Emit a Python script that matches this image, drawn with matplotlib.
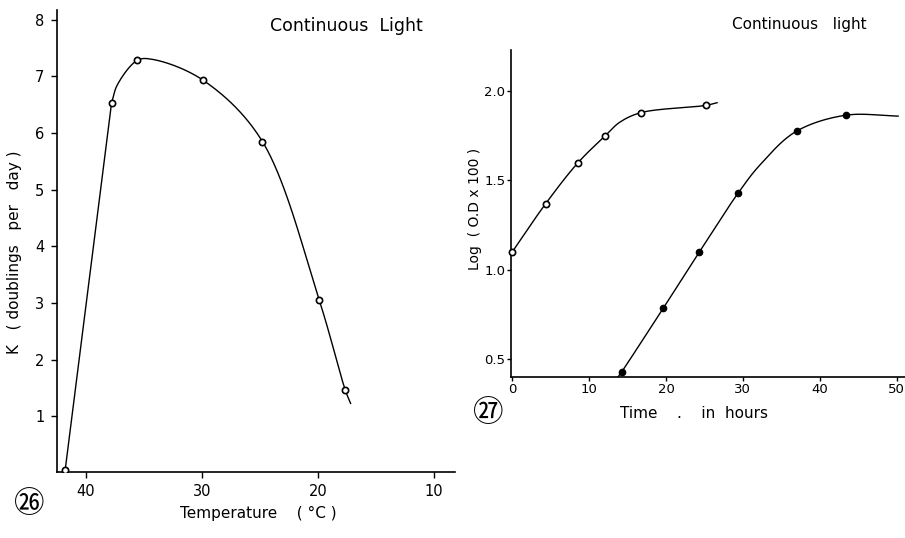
import numpy as np
import matplotlib
matplotlib.use("Agg")
import matplotlib.pyplot as plt

# Fig. 26: growth rate against temperature
temp_c = [41.8, 37.8, 35.6, 29.9, 24.8, 19.9, 17.65]
k_rate = [0.05, 6.53, 7.28, 6.93, 5.85, 3.05, 1.46]
# hand-drawn curve through the points (extra points)
curve26_t = [37.8, 37.3, 35.6, 34.3, 29.9, 24.8, 19.9, 17.65, 17.2]
curve26_k = [6.53, 6.85, 7.28, 7.30, 6.93, 5.85, 3.05, 1.46, 1.23]

# Fig. 27: growth curves, log(OD x 100) against time
open_t = [0, 4.35, 8.57, 12.1, 16.8, 25.2]
open_y = [1.10, 1.37, 1.60, 1.75, 1.88, 1.92]
open_curve_t = [0, 4.35, 8.57, 12.1, 14.0, 16.8, 25.2, 26.65]
open_curve_y = [1.10, 1.37, 1.60, 1.75, 1.826, 1.88, 1.92, 1.935]

filled_t = [14.26, 19.65, 24.35, 29.4, 37.0, 43.4]
filled_y = [0.43, 0.785, 1.10, 1.43, 1.776, 1.865]
filled_curve_t = [13.6, 14.26, 19.65, 24.35, 29.4, 32.3, 37.0, 43.4, 50.2]
filled_curve_y = [0.39, 0.43, 0.785, 1.10, 1.43, 1.59, 1.776, 1.865, 1.86]


def smooth(xs, ys, xr, yr, n=40):
    # centripetal Catmull-Rom through the points, in axis-scaled units
    p = np.column_stack([np.asarray(xs, float) / xr, np.asarray(ys, float) / yr])
    p = np.vstack([2 * p[0] - p[1], p, 2 * p[-1] - p[-2]])
    out = []
    for i in range(1, len(p) - 2):
        P = p[i - 1:i + 3]
        t = [0.0]
        for j in range(3):
            t.append(t[-1] + np.linalg.norm(P[j + 1] - P[j]) ** 0.5)
        t0, t1, t2, t3 = t
        u = np.linspace(t1, t2, n, endpoint=False)[:, None]
        A1 = (t1 - u) / (t1 - t0) * P[0] + (u - t0) / (t1 - t0) * P[1]
        A2 = (t2 - u) / (t2 - t1) * P[1] + (u - t1) / (t2 - t1) * P[2]
        A3 = (t3 - u) / (t3 - t2) * P[2] + (u - t2) / (t3 - t2) * P[3]
        B1 = (t2 - u) / (t2 - t0) * A1 + (u - t0) / (t2 - t0) * A2
        B2 = (t3 - u) / (t3 - t1) * A2 + (u - t1) / (t3 - t1) * A3
        out.append((t2 - u) / (t2 - t1) * B1 + (u - t1) / (t2 - t1) * B2)
    out.append(p[-2][None, :])
    out = np.vstack(out)
    return out[:, 0] * xr, out[:, 1] * yr


plt.rcParams['font.family'] = ['DejaVu Sans']
fig = plt.figure(figsize=(9.05, 5.38), dpi=100)

lw = 1.0
ms = 4.5

# ---- left panel
ax1 = fig.add_axes([0.063, 0.1227, 0.4398, 0.8587])
ax1.plot([temp_c[0], temp_c[1]], [k_rate[0], k_rate[1]], color='black', lw=lw)
cx, cy = smooth(curve26_t, curve26_k, 34.0, 8.0)
ax1.plot(cx, cy, color='black', lw=lw)
ax1.plot(temp_c, k_rate, 'o', mfc='white', mec='black', mew=1.2, ms=ms, zorder=3)
ax1.set_xlim(42.5, 8.2)
ax1.set_ylim(0.02, 8.17)
ax1.set_xticks([40, 30, 20, 10])
ax1.set_yticks([1, 2, 3, 4, 5, 6, 7, 8])
ax1.tick_params(direction='out', length=4, width=1, labelsize=10.5, pad=5)
ax1.set_ylabel('K   ( doublings   per   day )', fontsize=11)
ax1.yaxis.set_label_coords(-0.087, 0.476)
ax1.set_xlabel('Temperature    ( °C )', fontsize=11)
ax1.xaxis.set_label_coords(0.505, -0.074)
ax1.text(0.535, 0.955, 'Continuous  Light', transform=ax1.transAxes, fontsize=12.5)

# ---- right panel
ax2 = fig.add_axes([0.5646, 0.2993, 0.4354, 0.6078])
ox, oy = smooth(open_curve_t, open_curve_y, 51.0, 1.8)
ax2.plot(ox, oy, color='black', lw=lw)
fx, fy = smooth(filled_curve_t, filled_curve_y, 51.0, 1.8)
ax2.plot(fx, fy, color='black', lw=lw)
ax2.plot(open_t, open_y, 'o', mfc='white', mec='black', mew=1.2, ms=ms, zorder=3, clip_on=False)
ax2.plot(filled_t, filled_y, 'o', color='black', ms=ms, zorder=3)
ax2.set_xlim(-0.17, 51.1)
ax2.set_ylim(0.4, 2.23)
ax2.set_xticks([0, 10, 20, 30, 40, 50])
ax2.set_yticks([0.5, 1.0, 1.5, 2.0])
ax2.tick_params(direction='out', length=3, width=1, labelsize=9.5, pad=1)
ax2.set_ylabel('Log  ( O.D x 100 )', fontsize=10)
ax2.yaxis.set_label_coords(-0.074, 0.514)
ax2.set_xlabel('Time    .    in  hours', fontsize=11)
ax2.xaxis.set_label_coords(0.464, -0.089)
fig.text(0.809, 0.946, 'Continuous   light', fontsize=11)

for ax in (ax1, ax2):
    ax.spines['top'].set_visible(False)
    ax.spines['right'].set_visible(False)
    for s in ('left', 'bottom'):
        ax.spines[s].set_linewidth(1.2)

# figure numbers
cjk = ['Noto Sans CJK JP', 'DejaVu Sans']
fig.text(0.032, 0.062, '㉖', family=cjk, fontsize=22, ha='center', va='center')
fig.text(0.539, 0.231, '㉗', family=cjk, fontsize=22, ha='center', va='center')

fig.savefig('out.png', dpi=100, facecolor='white')
